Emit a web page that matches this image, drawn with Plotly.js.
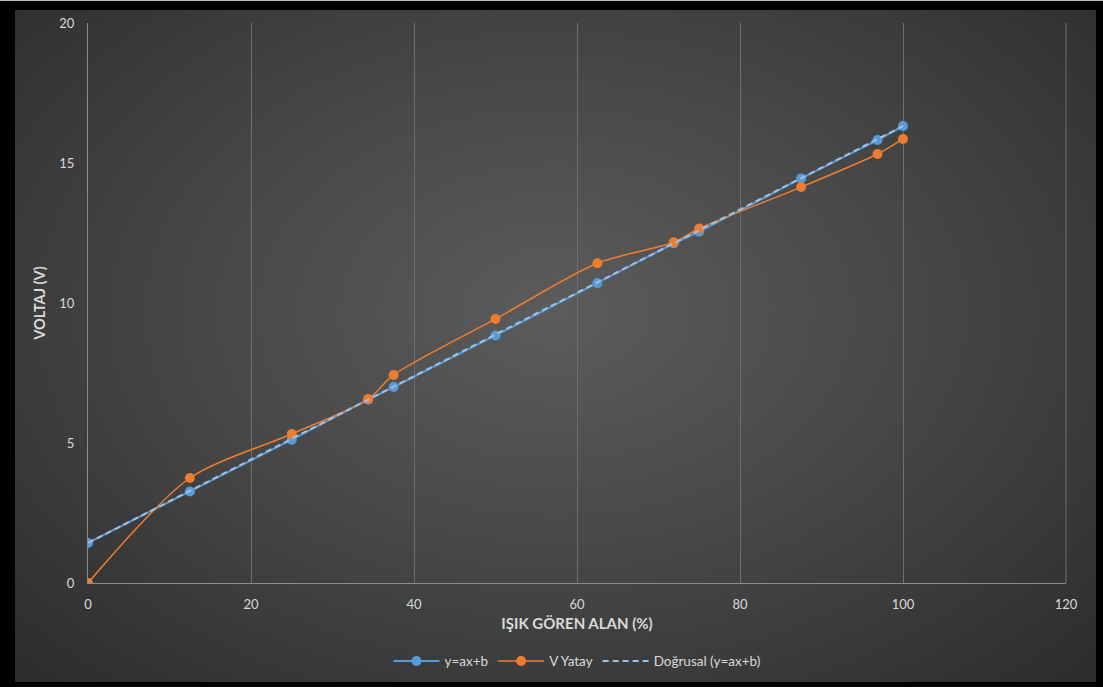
<!DOCTYPE html>
<html>
<head>
<meta charset="utf-8">
<script src="https://cdn.plot.ly/plotly-3.0.1.min.js"></script>
<style>
html,body{margin:0;padding:0;background:#000;width:1103px;height:687px;overflow:hidden;}
#frame{position:absolute;left:15px;top:10px;width:1081px;height:672px;
background:radial-gradient(ellipse at 50% 45%, #5c5c5c 0%, #484848 45%, #2c2c2c 100%);}
#chart{position:absolute;left:0;top:0;width:1081px;height:672px;}
#topline{position:absolute;left:0;top:0;width:1103px;height:1px;background:#bbb;}
</style>
</head>
<body>
<div id="topline"></div>
<div id="frame"><div id="chart"></div></div>
<script>
// Data
const xValues = [0, 12.5, 25, 34.375, 37.5, 50, 62.5, 71.875, 75, 87.5, 96.875, 100];
const yLinear = [1.43, 3.27, 5.12, 6.55, 7.0, 8.84, 10.71, 12.13, 12.55, 14.45, 15.82, 16.32];
const vYatay  = [0, 3.75, 5.32, 6.57, 7.43, 9.43, 11.42, 12.17, 12.66, 14.14, 15.32, 15.86];
const trendX = [0, 100];
const trendY = [1.43, 16.32];

const seriesNames = ['y=ax+b', 'V Yatay', 'Doğrusal (y=ax+b)'];
const xTicks = [0, 20, 40, 60, 80, 100, 120];
const yTicks = [0, 5, 10, 15, 20];

const blue = '#5B9BD5';
const orange = '#ED7D31';
const font = 'Lato, "Open Sans", "DejaVu Sans", sans-serif';

const traces = [
  {x: xValues, y: yLinear, name: seriesNames[0], type: 'scatter', mode: 'lines+markers',
   line: {color: blue, width: 2}, marker: {color: blue, size: 10}},
  {x: xValues, y: vYatay, name: seriesNames[1], type: 'scatter', mode: 'lines+markers',
   line: {color: orange, width: 1.5, shape: 'spline', smoothing: 0.8}, marker: {color: orange, size: 10}},
  {x: trendX, y: trendY, name: seriesNames[2], type: 'scatter', mode: 'lines',
   line: {color: '#9cc2e8', width: 2, dash: '6px,4px'}}
];

const layout = {
  width: 1081, height: 672,
  paper_bgcolor: 'rgba(0,0,0,0)', plot_bgcolor: 'rgba(0,0,0,0)',
  margin: {l: 73, r: 30, t: 13, b: 99},
  font: {family: font, color: '#d9d9d9', size: 13},
  showlegend: true,
  legend: {orientation: 'h', x: 0.5, xanchor: 'center', yref: 'container', y: 0.031, yanchor: 'middle',
           font: {size: 13.5, color: '#d9d9d9', family: font}, bgcolor: 'rgba(0,0,0,0)', itemwidth: 46},
  xaxis: {
    range: [0, 120], tickvals: xTicks, ticktext: xTicks.map(String),
    showgrid: true, gridcolor: '#6e6e6e', gridwidth: 1,
    zeroline: false, showline: true, linecolor: '#8c8c8c', linewidth: 1, mirror: false,
    ticks: 'outside', ticklen: 9, tickcolor: 'rgba(0,0,0,0)',
    tickfont: {size: 13, color: '#d9d9d9'},
    title: {text: '<b>IŞIK GÖREN ALAN (%)</b>', font: {size: 15, color: '#d9d9d9'}, standoff: 7}
  },
  yaxis: {
    range: [0, 20], tickvals: yTicks, ticktext: yTicks.map(String),
    showgrid: false, zeroline: false, showline: true, linecolor: '#8c8c8c', linewidth: 1,
    ticks: 'outside', ticklen: 10, tickcolor: 'rgba(0,0,0,0)',
    tickfont: {size: 13, color: '#d9d9d9'},
    title: {text: '<b>VOLTAJ (V)</b>', font: {size: 14.5, color: '#d9d9d9'}, standoff: 10}
  },
  shapes: [
    {type: 'line', xref: 'paper', yref: 'paper', x0: 1, x1: 1, y0: 0, y1: 1, line: {color: '#6e6e6e', width: 1}}
  ]
};

Plotly.newPlot('chart', traces, layout, {displayModeBar: false, staticPlot: true});
</script>
</body>
</html>
